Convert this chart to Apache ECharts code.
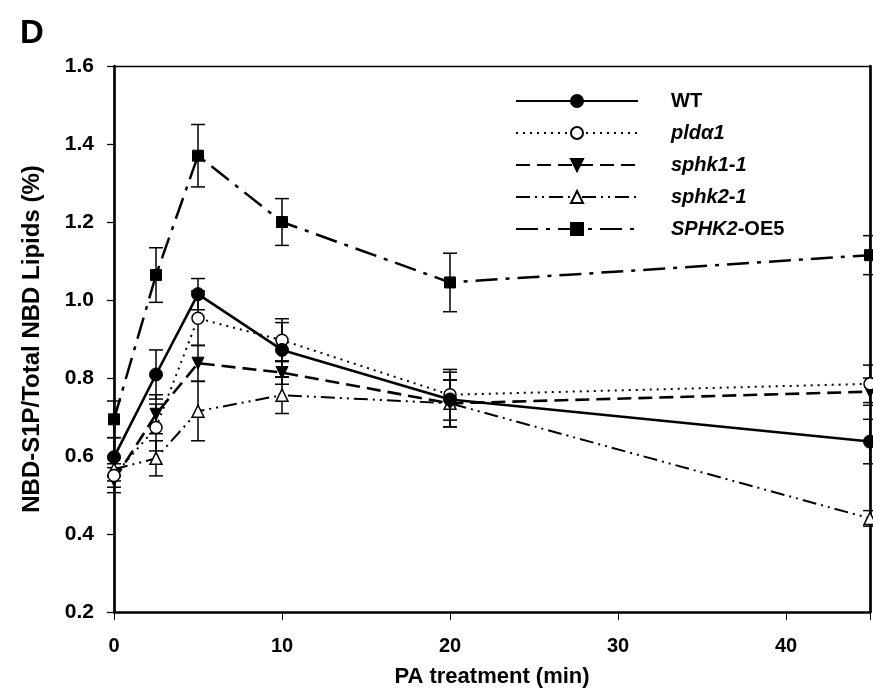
<!DOCTYPE html>
<html><head><meta charset="utf-8">
<script src="https://cdn.jsdelivr.net/npm/echarts@6/dist/echarts.min.js"></script>
<style>html,body{margin:0;padding:0;background:#fff}#c{width:873px;height:696px}</style>
</head><body><div id="c"></div>
<script>
// ---- data ----
const times = [0, 2.5, 5, 10, 20, 45];
const wt = [0.597, 0.809, 1.015, 0.872, 0.745, 0.637];
const wtErr = [0.05, 0.063, 0.04, 0.07, 0.07, 0.057];
const pld = [0.55, 0.673, 0.953, 0.897, 0.757, 0.785];
const pldErr = [0.03, 0.06, 0.07, 0.055, 0.065, 0.048];
const sphk1 = [0.538, 0.707, 0.838, 0.814, 0.735, 0.765];
const sphk1Err = [0.032, 0.05, 0.046, 0.03, 0.06, 0.035];
const sphk2 = [0.566, 0.594, 0.715, 0.756, 0.735, 0.44];
const sphk2Err = [0.03, 0.045, 0.076, 0.047, 0.06, 0.02];
const oe5 = [0.694, 1.064, 1.37, 1.20, 1.045, 1.115];
const oe5Err = [0.047, 0.07, 0.08, 0.06, 0.075, 0.05];
const seriesNames = ['WT', 'pldα1', 'sphk1-1', 'sphk2-1', 'SPHK2-OE5'];
const xTicks = [0, 10, 20, 30, 40];
const yTicks = [0.2, 0.4, 0.6, 0.8, 1.0, 1.2, 1.4, 1.6];

const FONT = 'Liberation Sans, Arial, sans-serif';
const chart = echarts.init(document.getElementById('c'), null, {renderer: 'canvas'});

function errSeries(vals, errs) {
  return {
    type: 'custom', silent: true, z: 1, clip: false,
    data: times.map((t, i) => [t, vals[i] - errs[i], vals[i] + errs[i]]),
    encode: {x: 0, y: [1, 2]},
    renderItem(params, api) {
      const x = api.value(0);
      const lo = api.coord([x, api.value(1)]);
      const hi = api.coord([x, api.value(2)]);
      const w = 7;
      const st = {stroke: '#000', lineWidth: 1.5};
      return {type: 'group', children: [
        {type: 'line', shape: {x1: lo[0], y1: lo[1], x2: hi[0], y2: hi[1]}, style: st},
        {type: 'line', shape: {x1: lo[0] - w, y1: lo[1], x2: lo[0] + w, y2: lo[1]}, style: st},
        {type: 'line', shape: {x1: hi[0] - w, y1: hi[1], x2: hi[0] + w, y2: hi[1]}, style: st}
      ]};
    }
  };
}

function lineSeries(name, vals, opt) {
  return {
    name, type: 'line', z: 3,
    data: times.map((t, i) => [t, vals[i]]),
    lineStyle: {color: '#000', width: opt.width, type: opt.dash},
    itemStyle: opt.filled ? {color: '#000', borderColor: '#000', borderWidth: 1}
                          : {color: '#fff', borderColor: '#000', borderWidth: 1.5},
    symbol: opt.symbol, symbolSize: opt.size, symbolRotate: opt.rotate || 0,
    showAllSymbol: true, animation: false, clip: false
  };
}

const option = {
  animation: false,
  backgroundColor: '#fff',
  grid: {left: 114, right: 3, top: 66, bottom: 84, containLabel: false},
  title: {text: 'D', left: 15, top: 12, textStyle: {fontFamily: FONT, fontWeight: 'bold', fontSize: 33, color: '#000'}},
  legend: {
    orient: 'vertical', left: 510, top: 86,
    itemWidth: 122, itemHeight: 15, itemGap: 12,
    data: seriesNames,
    textStyle: {
      fontFamily: FONT, fontSize: 20, color: '#000', padding: [0, 0, 0, 28],
      rich: {
        b: {fontFamily: FONT, fontSize: 20, fontWeight: 'bold'},
        bi: {fontFamily: FONT, fontSize: 20, fontWeight: 'bold', fontStyle: 'italic'},
        i: {fontFamily: FONT, fontSize: 20, fontWeight: 'bold', fontStyle: 'italic'},
        n: {fontFamily: FONT, fontSize: 20, fontWeight: 'bold'}
      }
    },
    formatter(name) {
      if (name === 'WT') return '{b|WT}';
      if (name === 'SPHK2-OE5') return '{i|SPHK2}{n|-OE5}';
      return '{bi|' + name + '}';
    }
  },
  xAxis: [{
    type: 'value', min: 0, max: 45, interval: 10, position: 'bottom',
    name: 'PA treatment (min)', nameLocation: 'middle', nameGap: 54,
    nameTextStyle: {fontFamily: FONT, fontWeight: 'bold', fontSize: 22, color: '#000'},
    axisLine: {onZero: false, lineStyle: {color: '#000', width: 2.5}},
    axisTick: {show: true, inside: false, length: 8, lineStyle: {color: '#000', width: 1}},
    axisLabel: {margin: 24, fontFamily: FONT, fontWeight: 'bold', fontSize: 20, color: '#000',
      customValues: xTicks, formatter: v => String(v)},
    splitLine: {show: false}
  }, {
    type: 'value', min: 0, max: 45, position: 'top',
    axisLine: {onZero: false, lineStyle: {color: '#000', width: 1.4}},
    axisTick: {show: false}, axisLabel: {show: false}, splitLine: {show: false}
  }],
  yAxis: [{
    type: 'value', min: 0.2, max: 1.6, interval: 0.2, position: 'left',
    name: 'NBD-S1P/Total NBD Lipids (%)', nameLocation: 'middle', nameGap: 70, nameRotate: 90,
    nameTextStyle: {fontFamily: FONT, fontWeight: 'bold', fontSize: 24, color: '#000'},
    axisLine: {onZero: false, lineStyle: {color: '#000', width: 2.7}},
    axisTick: {show: true, inside: false, length: 7, lineStyle: {color: '#000', width: 1.3}},
    axisLabel: {margin: 20, fontFamily: FONT, fontWeight: 'bold', fontSize: 21, color: '#000',
      formatter: v => v.toFixed(1)},
    splitLine: {show: false}
  }, {
    type: 'value', min: 0.2, max: 1.6, position: 'right',
    axisLine: {show: true, onZero: false, lineStyle: {color: '#000', width: 2.7}},
    axisTick: {show: false}, axisLabel: {show: false}, splitLine: {show: false}
  }],
  series: [
    errSeries(wt, wtErr), errSeries(pld, pldErr), errSeries(sphk1, sphk1Err),
    errSeries(sphk2, sphk2Err), errSeries(oe5, oe5Err),
    lineSeries('SPHK2-OE5', oe5, {width: 2.5, dash: [22, 8, 4, 8], filled: true, symbol: 'rect', size: 11}),
    lineSeries('sphk2-1', sphk2, {width: 2, dash: [14, 5, 2, 5, 2, 5], filled: false, symbol: 'triangle', size: 12}),
    lineSeries('sphk1-1', sphk1, {width: 2.6, dash: [14, 7], filled: true, symbol: 'triangle', size: 12, rotate: 180}),
    lineSeries('pldα1', pld, {width: 2, dash: [2, 5], filled: false, symbol: 'circle', size: 12}),
    lineSeries('WT', wt, {width: 2.6, dash: 'solid', filled: true, symbol: 'circle', size: 13})
  ]
};
chart.setOption(option);
</script></body></html>
